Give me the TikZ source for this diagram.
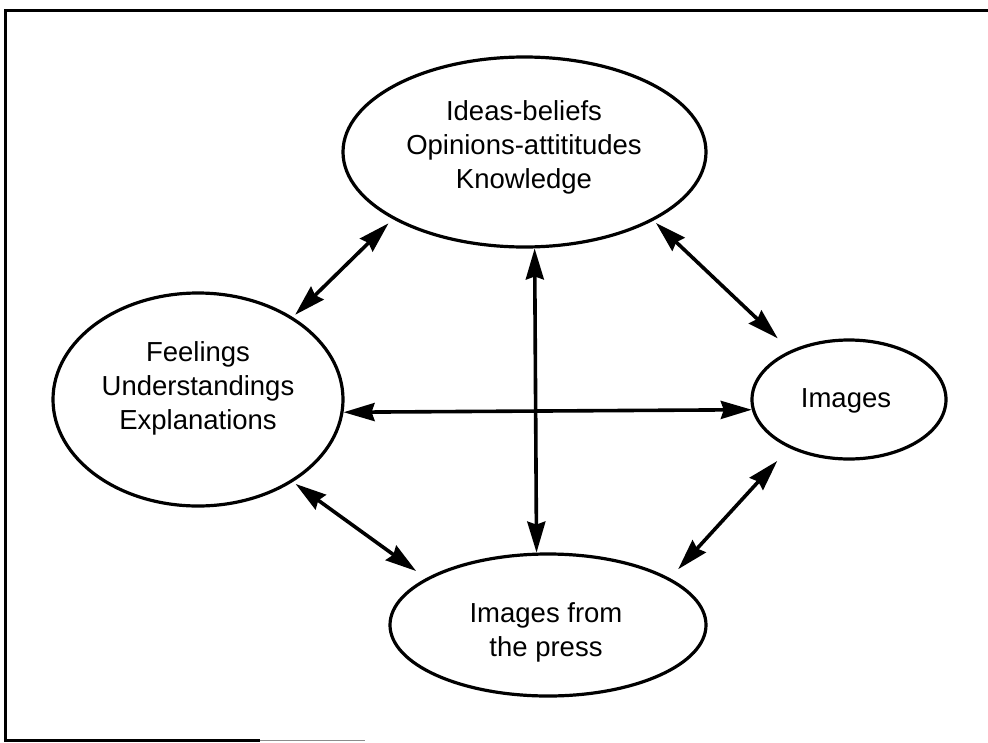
\documentclass[tikz,border=0pt]{standalone}
\usepackage{fontspec}
\setmainfont{Liberation Sans}
\usetikzlibrary{arrows.meta,shapes.geometric}
\begin{document}
\begin{tikzpicture}[x=1pt,y=-1pt,
  bub/.style={draw, ellipse, line width=3.2pt, inner sep=0pt},
  lbl/.style={align=center, inner sep=0pt, font=\fontsize{27.5}{34}\selectfont},
  tip/.style={Stealth[length=31pt,width=18pt,inset=3pt]},
  link/.style={line width=3.6pt, {Stealth[length=31pt,width=18pt,inset=3pt]}-{Stealth[length=31pt,width=18pt,inset=3pt]}},
  frame/.style={line width=3pt}]
\useasboundingbox (0,0) rectangle (988,742);
% frame (partly visible in the scan)
\draw[frame] (988,10) -- (5,10) -- (5,740) -- (260,740);
\draw[black!45, line width=1pt] (260,740) -- (365,740);
% ellipses
\node[bub, minimum width=363pt, minimum height=190pt] (top) at (524.5,152) {};
\node[bub, minimum width=290pt, minimum height=213pt] (left) at (198,399.5) {};
\node[bub, minimum width=194pt, minimum height=119pt] (right) at (849,399.5) {};
\node[bub, minimum width=316pt, minimum height=142pt] (bottom) at (548,625) {};
% labels
\node[lbl] (ttop) at (524,147.5) {Ideas-beliefs\\Opinions-attititudes\\Knowledge};
\node[lbl] (tleft) at (198,388) {Feelings\\Understandings\\Explanations};
\node[lbl] (tright) at (846,401) {Images};
\node[lbl] (tbottom) at (546,632.5) {Images from\\the press};
% connectors
\draw[link, shorten <=6pt, shorten >=3.2pt] (top.207.8) -- (left.41.1);
\draw[link, shorten <=3.4pt, shorten >=17.5pt] (top.332) -- (right.140.8);
\draw[link] (top.276.9) -- (bottom.99.6);
\draw[link] (left.355.4) -- (right.186.9);
\draw[link, shorten <=3.4pt, shorten >=12.2pt] (left.319.9) -- (bottom.159);
\draw[link, shorten <=12.2pt, shorten >=17.5pt] (bottom.21) -- (right.219.2);
\end{tikzpicture}
\end{document}
